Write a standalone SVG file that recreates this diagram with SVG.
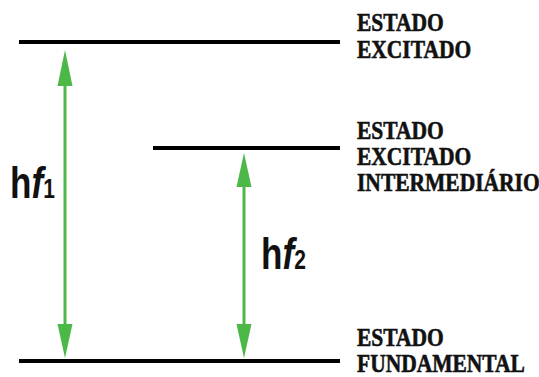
<svg xmlns="http://www.w3.org/2000/svg" width="539" height="377" viewBox="0 0 539 377">
<defs>
<style>
.lvl{stroke:#000;stroke-width:4;fill:none}
.arr{stroke:#4cb848;stroke-width:3;fill:none}
.head{fill:#4cb848}
.lbl{font-family:"Liberation Serif","Times New Roman",serif;font-weight:bold;font-size:21.5px;fill:#111;stroke:#111;stroke-width:0.5}
.hf{font-family:"Liberation Sans",Arial,sans-serif;font-weight:bold;font-size:45px;fill:#111}
.sub{font-size:27px;font-weight:bold;font-style:normal}
</style>
</defs>
<rect width="539" height="377" fill="#fff"/>
<g id="level-excited">
<line class="lvl" x1="19" y1="42" x2="340" y2="42"/>
<text class="lbl" transform="translate(357,31) scale(1,1.2)">ESTADO</text>
<text class="lbl" transform="translate(357,58) scale(1,1.2)">EXCITADO</text>
</g>
<g id="level-intermediate">
<line class="lvl" x1="153" y1="148" x2="340" y2="148"/>
<text class="lbl" transform="translate(357,139) scale(1,1.2)">ESTADO</text>
<text class="lbl" transform="translate(357,165) scale(1,1.2)">EXCITADO</text>
<text class="lbl" transform="translate(357,191) scale(1,1.2)">INTERMEDIÁRIO</text>
</g>
<g id="level-ground">
<line class="lvl" x1="19" y1="361" x2="340" y2="361"/>
<text class="lbl" transform="translate(357,346) scale(1,1.2)">ESTADO</text>
<text class="lbl" transform="translate(357,372) scale(1,1.2)">FUNDAMENTAL</text>
</g>
<g id="connectors">
<g id="arrow-hf1">
<line class="arr" x1="65" y1="80" x2="65" y2="330"/>
<polygon class="head" points="65,50 72.5,86 57.5,86"/>
<polygon class="head" points="65,358 72.5,324 57.5,324"/>
</g>
<g id="arrow-hf2">
<line class="arr" x1="244" y1="180" x2="244" y2="330"/>
<polygon class="head" points="244,153 251.5,187 236.5,187"/>
<polygon class="head" points="244,358 251.5,324 236.5,324"/>
</g>
</g>
<g id="label-hf1" transform="translate(10,198) scale(0.78,1)">
<text class="hf" x="0" y="0">h<tspan font-style="italic">f</tspan><tspan class="sub">1</tspan></text>
</g>
<g id="label-hf2" transform="translate(261,269) scale(0.78,1)">
<text class="hf" x="0" y="0">h<tspan font-style="italic">f</tspan><tspan class="sub">2</tspan></text>
</g>
</svg>
